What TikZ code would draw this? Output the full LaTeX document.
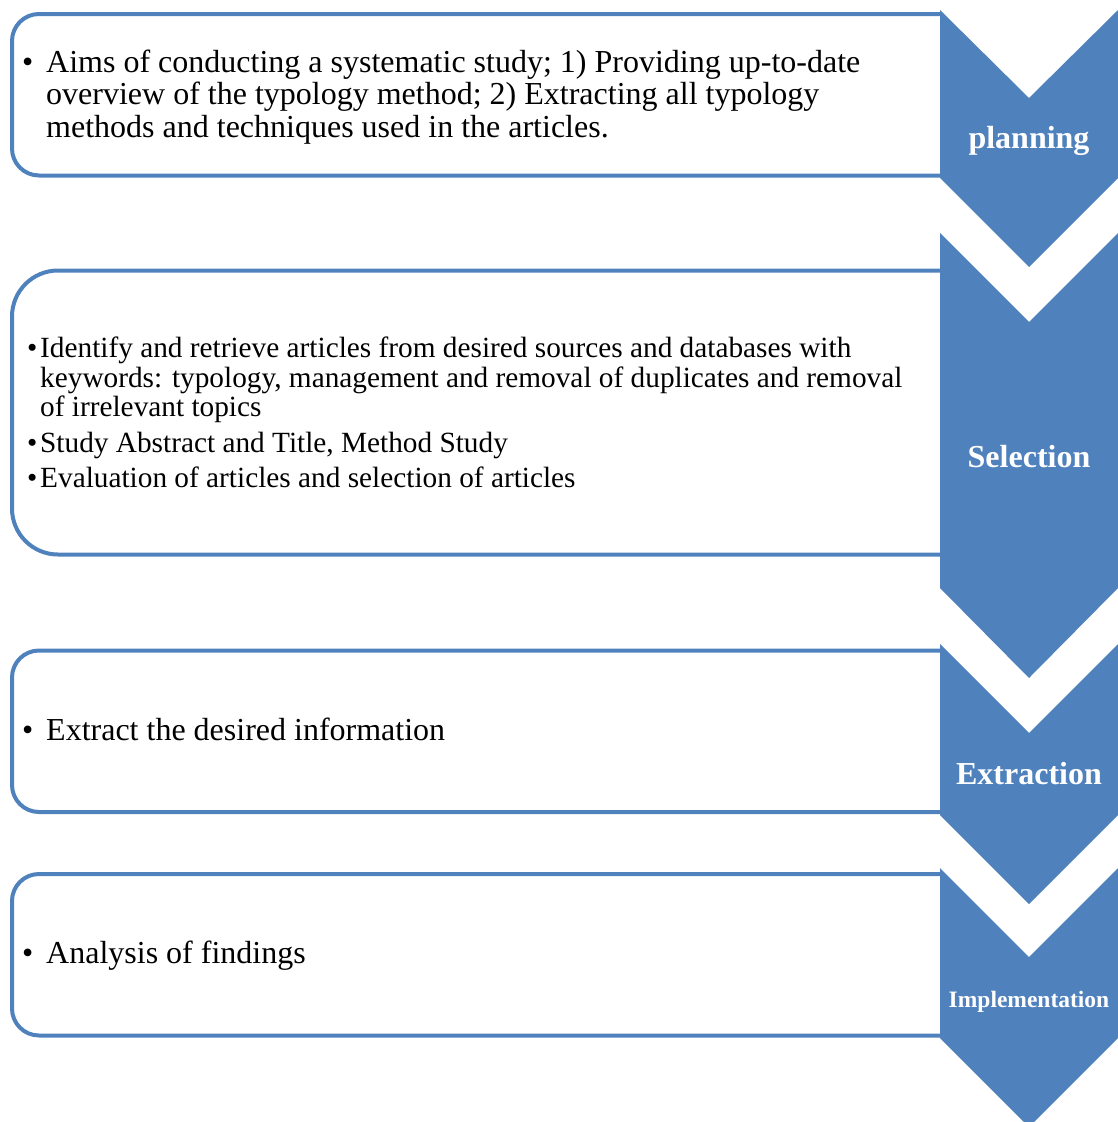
\documentclass[tikz,border=0pt]{standalone}
\usepackage{fontspec}
\setmainfont{Liberation Serif}
\definecolor{ofblue}{HTML}{4F81BD}
\begin{document}
\begin{tikzpicture}[x=1pt,y=-1pt,
  stagebox/.style={draw=ofblue,line width=4pt},
  chev/.style={fill=ofblue,draw=none},
  bodytxt/.style={anchor=base west,inner sep=0pt,font=\fontsize{32}{33}\selectfont},
  smalltxt/.style={anchor=base west,inner sep=0pt,font=\fontsize{29.3}{30}\selectfont},
  chevlabel/.style={anchor=base,inner sep=0pt,text=white,font=\bfseries\fontsize{32}{36}\selectfont}]
\useasboundingbox (0,0) rectangle (1118,1122);
\clip (0,0) rectangle (1118,1122);
% boxes (right side hidden under the chevrons)
\draw[stagebox,rounded corners=27pt] (940,14) -- (12,14) -- (12,175.5) -- (940,175.5);
\draw[stagebox,rounded corners=46pt] (940,270.5) -- (12,270.5) -- (12,554.5) -- (940,554.5);
\draw[stagebox,rounded corners=27pt] (940,650.5) -- (12,650.5) -- (12,812) -- (940,812);
\draw[stagebox,rounded corners=27pt] (940,874) -- (12,874) -- (12,1035.5) -- (940,1035.5);
% chevrons
\fill[chev] (940,10) -- (1029,98) -- (1118,10) -- (1118,178) -- (1029,267) -- (940,178) -- cycle;
\fill[chev] (940,233) -- (1029,322) -- (1118,233) -- (1118,588) -- (1029,678) -- (940,588) -- cycle;
\fill[chev] (940,644) -- (1029,733) -- (1118,644) -- (1118,815) -- (1029,904) -- (940,815) -- cycle;
\fill[chev] (940,868) -- (1029,957) -- (1118,868) -- (1118,1038) -- (1029,1127) -- (940,1038) -- cycle;
% chevron labels
\node[chevlabel] (l1) at (1029,148) {planning};
\node[chevlabel] (l2) at (1029,467) {Selection};
\node[chevlabel] (l3) at (1029,784) {Extraction};
\node[chevlabel,font=\bfseries\fontsize{23.5}{26}\selectfont] (l4) at (1029,1007) {Implementation};
% box 1 text
\node[bodytxt] (b1) at (22,72) {•};
\node[bodytxt] (t1a) at (46,72) {Aims of conducting a systematic study; 1) Providing up-to-date};
\node[bodytxt] (t1b) at (46,104) {overview of the typology method; 2) Extracting all typology};
\node[bodytxt] (t1c) at (46,137) {methods and techniques used in the articles.};
% box 2 text
\node[smalltxt] (b2a) at (27,357) {•};
\node[smalltxt] (t2a) at (40,357) {Identify and retrieve articles from desired sources and databases with};
\node[smalltxt] (t2b) at (40,387) {keywords: typology, management and removal of duplicates and removal};
\node[smalltxt] (t2c) at (40,416) {of irrelevant topics};
\node[smalltxt] (b2b) at (27,452) {•};
\node[smalltxt] (t2d) at (40,452) {Study Abstract and Title, Method Study};
\node[smalltxt] (b2c) at (27,487) {•};
\node[smalltxt] (t2e) at (40,487) {Evaluation of articles and selection of articles};
% box 3 text
\node[bodytxt] (b3) at (22,740) {•};
\node[bodytxt] (t3) at (46,740) {Extract the desired information};
% box 4 text
\node[bodytxt] (b4) at (22,963) {•};
\node[bodytxt] (t4) at (46,963) {Analysis of findings};
\end{tikzpicture}
\end{document}
